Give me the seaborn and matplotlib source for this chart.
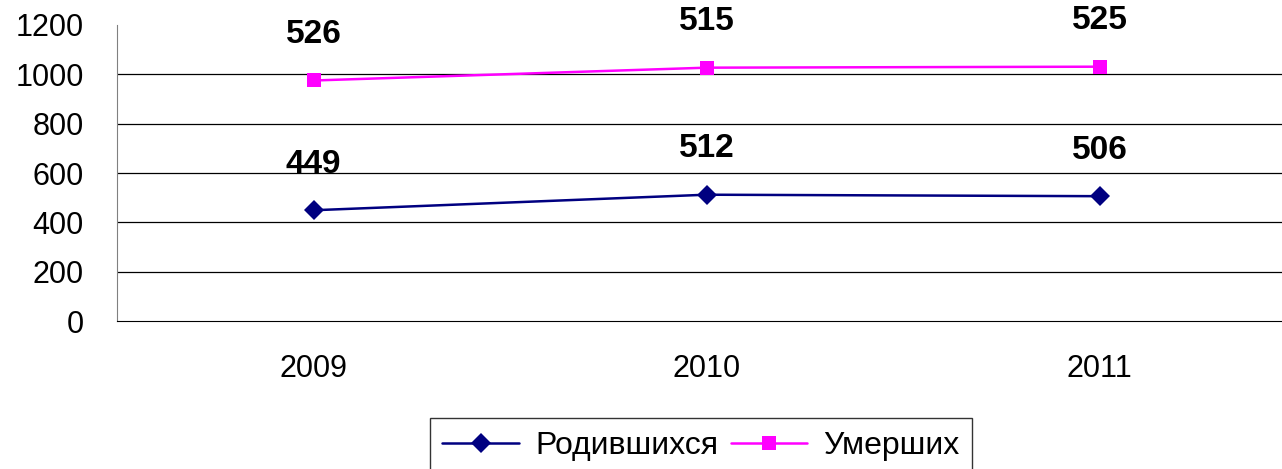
import pandas as pd
import seaborn as sns
import matplotlib.pyplot as plt

# --- data ---
years = ["2009", "2010", "2011"]
born = [449, 512, 506]
died = [526, 515, 525]
series_names = ["Родившихся", "Умерших"]
colors = ["#000080", "#FF00FF"]

# stacked line chart: second series sits on top of the first
died_stacked = [b + d for b, d in zip(born, died)]
df = pd.DataFrame({
    "year": years * 2,
    "value": born + died_stacked,
    "label": born + died,
    "series": [series_names[0]] * 3 + [series_names[1]] * 3,
})

sns.set_style("white")
plt.rcParams["font.family"] = ["Liberation Sans", "DejaVu Sans"]
plt.rcParams["text.color"] = "black"
plt.rcParams["xtick.labelcolor"] = "black"
plt.rcParams["ytick.labelcolor"] = "black"

W, H = 1282, 469
fig = plt.figure(figsize=(W / 100, H / 100), dpi=100)
ax = fig.add_axes([117 / W, 1 - 321 / H, 1179 / W, 296 / H])

sns.lineplot(data=df, x="year", y="value", hue="series", style="series",
             markers={series_names[0]: "D", series_names[1]: "s"}, dashes=False,
             palette=dict(zip(series_names, colors)), linewidth=1.8,
             markersize=10, markeredgewidth=0, ax=ax, legend=False)

# data labels
for _, row in df.iterrows():
    ax.annotate(str(row["label"]), (years.index(row["year"]), row["value"]),
                xytext=(0, 33), textcoords="offset points", ha="center", va="center",
                fontsize=24, fontweight="bold", color="black")

ax.set_xlim(-0.5, 2.5)
ax.set_ylim(0, 1200)
ax.set_yticks(range(0, 1201, 200))
for y in range(200, 1001, 200):
    ax.axhline(y, color="black", linewidth=0.9, zorder=0)
ax.set_xlabel("")
ax.set_ylabel("")

ax.set_xticks([0, 1, 2])
ax.set_xticks([0.5, 1.5], minor=True)
ax.tick_params(axis="x", which="major", length=0, labelsize=22, pad=24, labelcolor="black")
ax.tick_params(axis="x", which="minor", length=9, color="#808080", direction="out")
ax.tick_params(axis="y", length=9, color="#808080", direction="out", labelsize=22, pad=15,
               labelcolor="black")

for s in ["top", "right"]:
    ax.spines[s].set_visible(False)
ax.spines["left"].set_color("#808080")
ax.spines["bottom"].set_color("black")

handles = [plt.Line2D([], [], color=c, marker=m, markersize=10, linewidth=1.8, markeredgewidth=0)
           for c, m in zip(colors, ["D", "s"])]
leg = fig.legend(handles, series_names, loc="upper center", bbox_to_anchor=(701 / W, 1 - 418 / H),
                 ncol=2, fontsize=23, frameon=True, fancybox=False, edgecolor="black",
                 handlelength=2.4, columnspacing=0.4, handletextpad=0.5, borderpad=0.4,
                 borderaxespad=0)
leg.get_frame().set_linewidth(1.0)
for t in leg.get_texts():
    t.set_color("black")

fig.savefig("out.png", dpi=100)
